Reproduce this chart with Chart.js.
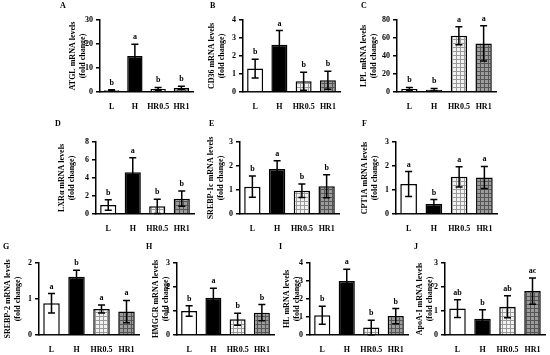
<!DOCTYPE html>
<html>
<head>
<meta charset="utf-8">
<script src="https://cdn.jsdelivr.net/npm/chart.js@4"></script>
<style>
  body { margin: 0; background: #fff; overflow: hidden; }
  #fig { position: relative; width: 550px; height: 355px; }
  #fig canvas { position: absolute; }
</style>
</head>
<body>
<div id="fig"></div>
<script>
"use strict";

// groups on every x axis
const groups = ['L', 'H', 'HR0.5', 'HR1'];

// A - ATGL
const atglMean = [0.7, 15.0, 1.3, 1.7];
const atglErr = [0.2, 4.9, 0.6, 0.65];
const atglSig = ['b', 'a', 'b', 'b'];
// B - CD36
const cd36Mean = [1.3, 2.63, 0.6, 0.65];
const cd36Err = [0.52, 0.78, 0.5, 0.5];
const cd36Sig = ['b', 'a', 'b', 'b'];
// C - LPL
const lplMean = [3.3, 2.6, 62.5, 54];
const lplErr = [1.8, 1.4, 10, 19.5];
const lplSig = ['b', 'b', 'a', 'a'];
// D - LXRa
const lxrMean = [1.0, 4.65, 0.85, 1.7];
const lxrErr = [0.58, 1.6, 0.8, 0.85];
const lxrSig = ['b', 'a', 'b', 'b'];
// E - SREBP-1c
const srebp1cMean = [1.14, 1.88, 0.97, 1.16];
const srebp1cErr = [0.44, 0.34, 0.28, 0.48];
const srebp1cSig = ['b', 'a', 'b', 'b'];
// F - CPT1A
const cpt1aMean = [1.25, 0.42, 1.55, 1.52];
const cpt1aErr = [0.52, 0.18, 0.42, 0.46];
const cpt1aSig = ['a', 'b', 'a', 'a'];
// G - SREBP-2
const srebp2Mean = [0.88, 1.62, 0.72, 0.65];
const srebp2Err = [0.27, 0.18, 0.11, 0.31];
const srebp2Sig = ['a', 'b', 'a', 'a'];
// H - HMGCR
const hmgcrMean = [1.0, 1.55, 0.66, 0.93];
const hmgcrErr = [0.22, 0.4, 0.25, 0.34];
const hmgcrSig = ['b', 'a', 'b', 'b'];
// I - HL
const hlMean = [1.1, 3.0, 0.42, 1.05];
const hlErr = [0.5, 0.65, 0.4, 0.42];
const hlSig = ['b', 'a', 'b', 'b'];
// J - ApoA-I
const apoMean = [1.1, 0.68, 1.18, 1.83];
const apoErr = [0.37, 0.37, 0.46, 0.55];
const apoSig = ['ab', 'b', 'ab', 'ac'];

// y axis ranges
const yMax = [30, 4, 80, 8, 3, 3, 2, 3, 4, 3];
const yStep = [10, 1, 20, 2, 1, 1, 1, 1, 1, 1];

const serif = "'Liberation Serif', 'Times New Roman', serif";

// hatched grey fills for the HR groups
function gridPattern(base, line) {
  const c = document.createElement('canvas');
  c.width = 4; c.height = 4;
  const g = c.getContext('2d');
  g.fillStyle = base;
  g.fillRect(0, 0, 4, 4);
  g.fillStyle = line;
  g.fillRect(0, 3, 4, 1);
  g.fillRect(3, 0, 1, 4);
  return g.createPattern(c, 'repeat');
}

// layout of the ten panels (page pixels)
// cl/ct canvas corner, pl/pr/pt/pb plot box, tx title first line centre, lx/ly panel letter
const panels = [
  {tag: 'A', name: 'ATGL', mean: atglMean, err: atglErr, sig: atglSig, cl: 58, ct: 0, pl: 100, pr: 193, pt: 20, pb: 92, tx: 73, lx: 60, ly: 2},
  {tag: 'B', name: 'CD36', mean: cd36Mean, err: cd36Err, sig: cd36Sig, cl: 205, ct: 0, pl: 243, pr: 340, pt: 20, pb: 92, tx: 212, lx: 210, ly: 2},
  {tag: 'C', name: 'LPL', mean: lplMean, err: lplErr, sig: lplSig, cl: 357, ct: 0, pl: 397, pr: 496, pt: 20, pb: 92, tx: 364, lx: 361, ly: 2},
  {tag: 'D', name: 'LXR\u03B1', mean: lxrMean, err: lxrErr, sig: lxrSig, cl: 52, ct: 118, pl: 96, pr: 194, pt: 142, pb: 214, tx: 62, lx: 55, ly: 120},
  {tag: 'E', name: 'SREBP-1c', mean: srebp1cMean, err: srebp1cErr, sig: srebp1cSig, cl: 205, ct: 118, pl: 240, pr: 339, pt: 142, pb: 214, tx: 211, lx: 209, ly: 120},
  {tag: 'F', name: 'CPT1A', mean: cpt1aMean, err: cpt1aErr, sig: cpt1aSig, cl: 357, ct: 118, pl: 396, pr: 497, pt: 142, pb: 214, tx: 365, lx: 362, ly: 120},
  {tag: 'G', name: 'SREBP-2', mean: srebp2Mean, err: srebp2Err, sig: srebp2Sig, cl: 0, ct: 241, pl: 39, pr: 139, pt: 263, pb: 335, tx: 8, lx: 3, ly: 243},
  {tag: 'H', name: 'HMGCR', mean: hmgcrMean, err: hmgcrErr, sig: hmgcrSig, cl: 142, ct: 241, pl: 177, pr: 274, pt: 263, pb: 335, tx: 156, lx: 146, ly: 243},
  {tag: 'I', name: 'HL', mean: hlMean, err: hlErr, sig: hlSig, cl: 276, ct: 241, pl: 310, pr: 408, pt: 263, pb: 335, tx: 287, lx: 279, ly: 243},
  {tag: 'J', name: 'ApoA-I', mean: apoMean, err: apoErr, sig: apoSig, cl: 411, ct: 241, pl: 445, pr: 545, pt: 263, pb: 335, tx: 420, lx: 414, ly: 243}
];

const fig = document.getElementById('fig');
const padRight = 8;
const xAxisH = 20;

// error bars, significance letters and the panel letter
function makeExtras(p) {
  return {
    id: 'extras' + p.tag,
    afterDatasetsDraw(chart) {
      const ctx = chart.ctx;
      const y = chart.scales.y;
      const bars = chart.getDatasetMeta(0).data;
      ctx.save();
      ctx.strokeStyle = '#000';
      ctx.lineWidth = 1.5;
      ctx.fillStyle = '#000';
      ctx.font = 'bold 8px ' + serif;
      ctx.textAlign = 'center';
      ctx.textBaseline = 'alphabetic';
      bars.forEach((bar, i) => {
        const top = y.getPixelForValue(p.mean[i] + p.err[i]);
        const bot = y.getPixelForValue(Math.max(p.mean[i] - p.err[i], 0));
        ctx.beginPath();
        ctx.moveTo(bar.x, top); ctx.lineTo(bar.x, bot);
        ctx.moveTo(bar.x - 3.5, top); ctx.lineTo(bar.x + 3.5, top);
        ctx.moveTo(bar.x - 3.5, bot); ctx.lineTo(bar.x + 3.5, bot);
        ctx.stroke();
        ctx.fillText(p.sig[i], bar.x, top - 5);
      });
      ctx.textAlign = 'left';
      ctx.textBaseline = 'top';
      ctx.fillText(p.tag, p.lx - p.cl, p.ly - p.ct);
      ctx.restore();
    }
  };
}

panels.forEach((p, k) => {
  const cv = document.createElement('canvas');
  cv.width = p.pr + padRight - p.cl;
  cv.height = p.pb + xAxisH - p.ct;
  cv.style.left = p.cl + 'px';
  cv.style.top = p.ct + 'px';
  fig.appendChild(cv);

  const fills = ['#ffffff', '#000000', gridPattern('#f2f2f2', '#9a9a9a'), gridPattern('#9c9c9c', '#555555')];
  const yw = p.pl - p.cl;

  new Chart(cv, {
    type: 'bar',
    data: {
      labels: groups,
      datasets: [{
        data: p.mean,
        backgroundColor: fills,
        borderColor: '#000',
        borderWidth: 1.5,
        barPercentage: 0.66,
        categoryPercentage: 1
      }]
    },
    options: {
      responsive: false,
      animation: false,
      layout: { padding: { left: 0, top: p.pt - p.ct, right: padRight, bottom: 0 } },
      plugins: { legend: { display: false }, tooltip: { enabled: false } },
      scales: {
        x: {
          grid: { display: false, drawTicks: false },
          border: { display: true, color: '#000', width: 1.5 },
          ticks: { color: '#000', font: { family: serif, size: 8, weight: 'bold' }, padding: 10, maxRotation: 0, autoSkip: false },
          afterFit: (s) => { s.height = xAxisH; }
        },
        y: {
          min: 0,
          max: yMax[k],
          ticks: { stepSize: yStep[k], color: '#000', font: { family: serif, size: 8, weight: 'bold' }, padding: 3 },
          grid: { drawOnChartArea: false, drawTicks: true, tickLength: 4, color: '#000', lineWidth: 1.5 },
          border: { display: true, color: '#000', width: 1.5 },
          title: {
            display: true,
            text: [p.name + ' mRNA levels', '(fold change)'],
            color: '#000',
            font: { family: serif, size: 8, weight: 'bold', lineHeight: 1.2 },
            padding: { top: p.tx - p.cl - 4.8, bottom: 0 }
          },
          afterFit: (s) => { s.width = yw; }
        }
      }
    },
    plugins: [makeExtras(p)]
  });
});
</script>
</body>
</html>
